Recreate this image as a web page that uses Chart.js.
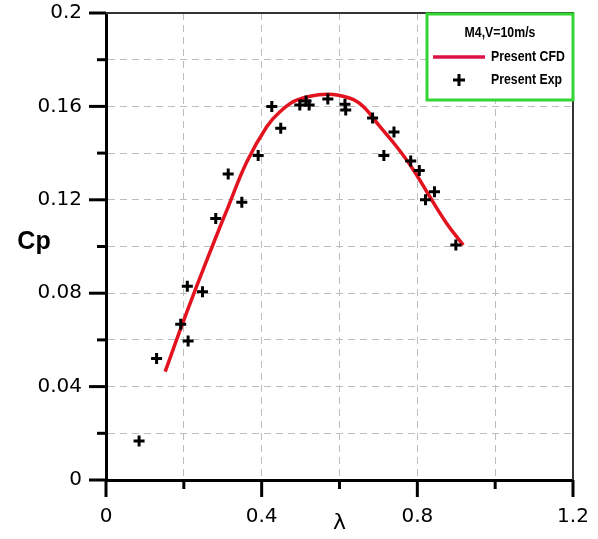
<!DOCTYPE html>
<html>
<head>
<meta charset="utf-8">
<script src="https://cdn.jsdelivr.net/npm/chart.js@4.4.1/dist/chart.umd.min.js"></script>
<style>
  html, body { margin: 0; padding: 0; background: #fff; }
  #chart { display: block; }
</style>
</head>
<body>
<canvas id="chart" width="598" height="539"></canvas>
<script>
// Cp vs tip speed ratio, model M4 at V=10m/s

// experimental points (lambda, Cp)
const expLambda = [0.085, 0.130, 0.192, 0.211, 0.209, 0.248, 0.282, 0.314, 0.349, 0.391,
    0.426, 0.449, 0.498, 0.514, 0.522, 0.570, 0.614, 0.616, 0.685, 0.714,
    0.740, 0.783, 0.805, 0.821, 0.844, 0.899];
const expCp = [0.0167, 0.052, 0.0667, 0.0595, 0.083, 0.0806, 0.112, 0.131, 0.119, 0.139,
    0.160, 0.1506, 0.1606, 0.1623, 0.1606, 0.1632, 0.1609, 0.1585, 0.155, 0.139,
    0.149, 0.1366, 0.1325, 0.120, 0.1235, 0.1006];

// CFD curve (lambda, Cp)
const cfdLambda = [0.152, 0.190, 0.233, 0.280, 0.314, 0.361, 0.413, 0.447, 0.490, 0.567,
    0.627, 0.661, 0.704, 0.747, 0.790, 0.832, 0.875, 0.918];
const cfdCp = [0.0464, 0.064, 0.083, 0.103, 0.117, 0.136, 0.1513, 0.1577, 0.1627, 0.1652,
    0.1635, 0.160, 0.1513, 0.1427, 0.1328, 0.1213, 0.110, 0.1006];

const xTickLabels = ['0', '0.4', '0.8', '1.2'];
const yTickLabels = ['0', '0.04', '0.08', '0.12', '0.16', '0.2'];

const legendTitle = 'M4,V=10m/s';
const seriesNames = ['Present CFD', 'Present Exp'];

function fmt(v) {
    return String(+v.toFixed(2));
}

// tick marks of two lengths, frame, axis labels and legend box
const decorPlugin = {
    id: 'decor',
    afterDraw(chart) {
        const ctx = chart.ctx;
        const area = chart.chartArea;
        const xs = chart.scales.x;
        const ys = chart.scales.y;
        ctx.save();

        // top and right frame
        ctx.strokeStyle = '#333';
        ctx.lineWidth = 2;
        ctx.beginPath();
        ctx.moveTo(area.left, area.top);
        ctx.lineTo(area.right, area.top);
        ctx.lineTo(area.right, area.bottom);
        ctx.stroke();

        // tick marks
        ctx.strokeStyle = '#000';
        ctx.lineWidth = 3;
        xs.ticks.forEach(t => {
            const px = xs.getPixelForValue(t.value);
            const len = xTickLabels.includes(fmt(t.value)) ? 17 : 9;
            ctx.beginPath();
            ctx.moveTo(px, area.bottom);
            ctx.lineTo(px, area.bottom + len);
            ctx.stroke();
        });
        ys.ticks.forEach(t => {
            const py = ys.getPixelForValue(t.value);
            const len = yTickLabels.includes(fmt(t.value)) ? 17 : 9;
            ctx.beginPath();
            ctx.moveTo(area.left - len, py);
            ctx.lineTo(area.left, py);
            ctx.stroke();
        });

        // axis titles
        ctx.fillStyle = '#000';
        ctx.textAlign = 'center';
        ctx.textBaseline = 'middle';
        ctx.font = 'bold 25px "Liberation Sans", Arial, sans-serif';
        ctx.fillText('Cp', 34, 242);
        ctx.font = '22px "DejaVu Sans", sans-serif';
        ctx.fillText('λ', (area.left + area.right) / 2, 523);

        // legend box
        const bx = 427, by = 14, bw = area.right - 427, bh = 86;
        ctx.fillStyle = '#fff';
        ctx.fillRect(bx, by, bw, bh);
        ctx.strokeStyle = '#33d633';
        ctx.lineWidth = 3;
        ctx.strokeRect(bx, by, bw, bh);

        const narrow = (text, x, y, align) => {
            ctx.save();
            ctx.translate(x, y);
            ctx.scale(0.82, 1);
            ctx.textAlign = align;
            ctx.fillText(text, 0, 0);
            ctx.restore();
        };
        ctx.fillStyle = '#000';
        ctx.textBaseline = 'middle';
        ctx.font = 'bold 15px "Liberation Sans", Arial, sans-serif';
        narrow(legendTitle, 500, 33, 'center');
        narrow(seriesNames[0], 491, 57, 'left');
        narrow(seriesNames[1], 491, 80, 'left');

        ctx.strokeStyle = '#dc1446';
        ctx.lineWidth = 3.5;
        ctx.beginPath();
        ctx.moveTo(433, 57);
        ctx.lineTo(485, 57);
        ctx.stroke();

        ctx.strokeStyle = '#000';
        ctx.lineWidth = 3;
        ctx.beginPath();
        ctx.moveTo(453, 80);
        ctx.lineTo(465, 80);
        ctx.moveTo(459, 74);
        ctx.lineTo(459, 86);
        ctx.stroke();

        ctx.restore();
    }
};

const gridStyle = {
    color: '#bdbdbd',
    lineWidth: 1,
    drawTicks: false
};

function noPad(s) {
    s.paddingTop = 0;
    s.paddingBottom = 0;
    s.paddingLeft = 0;
    s.paddingRight = 0;
}

new Chart(document.getElementById('chart'), {
    type: 'scatter',
    data: {
        datasets: [
            {
                label: seriesNames[1],
                data: expLambda.map((x, i) => ({ x: x, y: expCp[i] })),
                pointStyle: 'cross',
                pointRadius: 5.5,
                pointBorderWidth: 3,
                borderColor: '#000',
                backgroundColor: '#000',
                showLine: false
            },
            {
                label: seriesNames[0],
                data: cfdLambda.map((x, i) => ({ x: x, y: cfdCp[i] })),
                showLine: true,
                borderColor: '#e3121f',
                borderWidth: 3.5,
                pointRadius: 0,
                tension: 0.4
            }
        ]
    },
    options: {
        responsive: false,
        animation: false,
        layout: { padding: { top: 13, right: 25, left: 0, bottom: 0 } },
        plugins: {
            legend: { display: false },
            tooltip: { enabled: false }
        },
        scales: {
            x: {
                type: 'linear',
                min: 0,
                max: 1.2,
                afterFit: s => { s.height = 59; noPad(s); },
                grid: gridStyle,
                border: { display: true, color: '#000', width: 3, dash: [7, 5] },
                ticks: {
                    stepSize: 0.2,
                    padding: 25,
                    color: '#000',
                    font: { family: '"DejaVu Sans", sans-serif', size: 20 },
                    callback: v => xTickLabels.includes(fmt(v)) ? fmt(v) : ''
                }
            },
            y: {
                type: 'linear',
                min: 0,
                max: 0.2,
                afterFit: s => { s.width = 106; noPad(s); },
                grid: gridStyle,
                border: { display: true, color: '#000', width: 3, dash: [7, 5] },
                ticks: {
                    stepSize: 0.02,
                    padding: 24,
                    color: '#000',
                    font: { family: '"DejaVu Sans", sans-serif', size: 20 },
                    callback: v => yTickLabels.includes(fmt(v)) ? fmt(v) : ''
                }
            }
        }
    },
    plugins: [decorPlugin]
});
</script>
</body>
</html>
